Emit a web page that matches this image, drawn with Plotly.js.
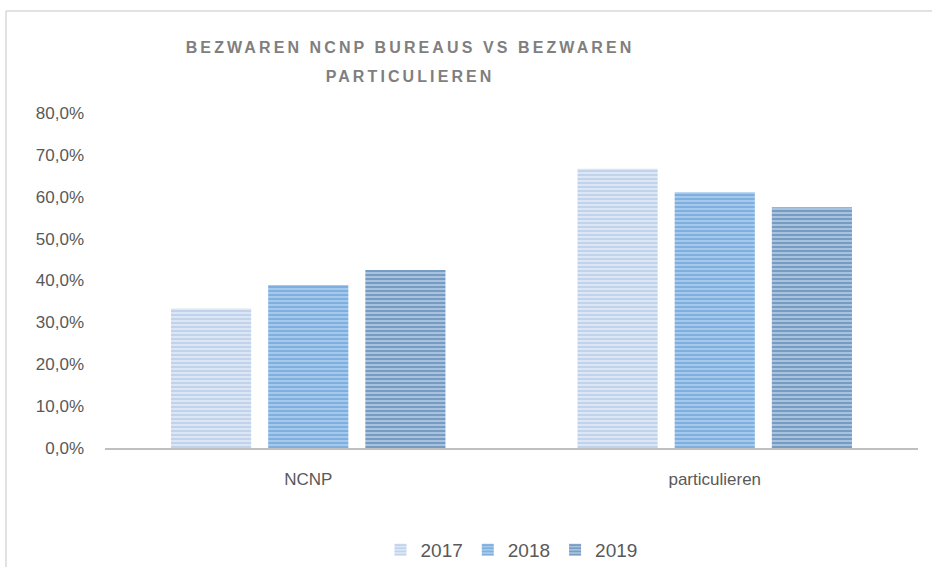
<!DOCTYPE html>
<html>
<head>
<meta charset="utf-8">
<script src="https://cdn.plot.ly/plotly-3.0.1.min.js"></script>
<style>
  html, body { margin: 0; padding: 0; background: #fff; }
  #chart { width: 932px; height: 567px; }
</style>
</head>
<body>
<div id="chart"></div>
<script>
// Categories and per-year shares
const categories = ['NCNP', 'particulieren'];
const years = ['2017', '2018', '2019'];
const share2017 = [0.333, 0.667];
const share2018 = [0.389, 0.611];
const share2019 = [0.425, 0.575];

const stripeFg = ['#a3bde2', '#5593d0', '#3f72a8'];
const stripeBg = ['#dfe8f5', '#a9cbec', '#aec6e0'];

let traces = [share2017, share2018, share2019].map((vals, i) => ({
  type: 'bar',
  name: years[i],
  x: categories,
  y: vals,
  marker: {
    color: stripeBg[i],
    line: { width: 0 },
    pattern: {
      shape: '-',
      fgcolor: stripeFg[i],
      bgcolor: stripeBg[i],
      size: 4,
      solidity: 0.55,
      fillmode: 'overlay'
    }
  },
  hoverinfo: 'skip'
}));

let layout = {
  width: 932,
  height: 567,
  margin: { l: 105, r: 14, t: 113, b: 119, autoexpand: false },
  paper_bgcolor: '#ffffff',
  plot_bgcolor: '#ffffff',
  separators: ',.',
  barmode: 'group',
  bargap: 0.283,
  bargroupgap: 0.175,
  font: { family: 'Liberation Sans, Arial, sans-serif', color: '#595959', size: 17 },
  title: {
    text: 'BEZWAREN NCNP BUREAUS VS BEZWAREN<br>PARTICULIEREN',
    font: { family: 'Liberation Sans, Arial, sans-serif', size: 16, color: '#7f7f7f', weight: 'bold' },
    xref: 'container', x: 0.44, xanchor: 'center',
    yref: 'container', y: 0.907, yanchor: 'top',
    automargin: false
  },
  xaxis: {
    type: 'category',
    showline: true,
    linecolor: '#bfbfbf',
    linewidth: 2,
    showgrid: false,
    ticks: '',
    tickfont: { size: 17, color: '#595959' },
    ticklabelstandoff: 15
  },
  yaxis: {
    range: [0, 0.8],
    dtick: 0.1,
    tickformat: '.1%',
    showgrid: false,
    zeroline: false,
    showline: false,
    ticks: '',
    ticklabelstandoff: 20,
    tickfont: { size: 17, color: '#595959' }
  },
  legend: {
    orientation: 'h',
    x: 0.5, xanchor: 'center',
    yref: 'container', y: 0.03, yanchor: 'middle',
    font: { size: 19, color: '#595959' },
    itemwidth: 30,
    traceorder: 'normal'
  },
  shapes: [
    // outer chart frame (left and top edges visible)
    { type: 'line', xref: 'paper', yref: 'paper', x0: -0.1218, x1: -0.1218, y0: 1.3045, y1: -0.4,
      line: { color: '#d9d9d9', width: 1.5 } },
    { type: 'line', xref: 'paper', yref: 'paper', x0: -0.1218, x1: 1.05, y0: 1.3045, y1: 1.3045,
      line: { color: '#d9d9d9', width: 1.5 } }
  ],
  showlegend: true
};

Plotly.newPlot('chart', traces, layout, { displayModeBar: false, staticPlot: true }).then(() => {
  // Excel-style spaced caps and looser line height in the title
  document.querySelectorAll('.gtitle').forEach(el => {
    el.style.letterSpacing = '3.1px';
    el.querySelectorAll('tspan.line').forEach((t, i) => {
      if (i > 0) t.setAttribute('dy', '1.8em');
    });
  });
});
</script>
</body>
</html>
